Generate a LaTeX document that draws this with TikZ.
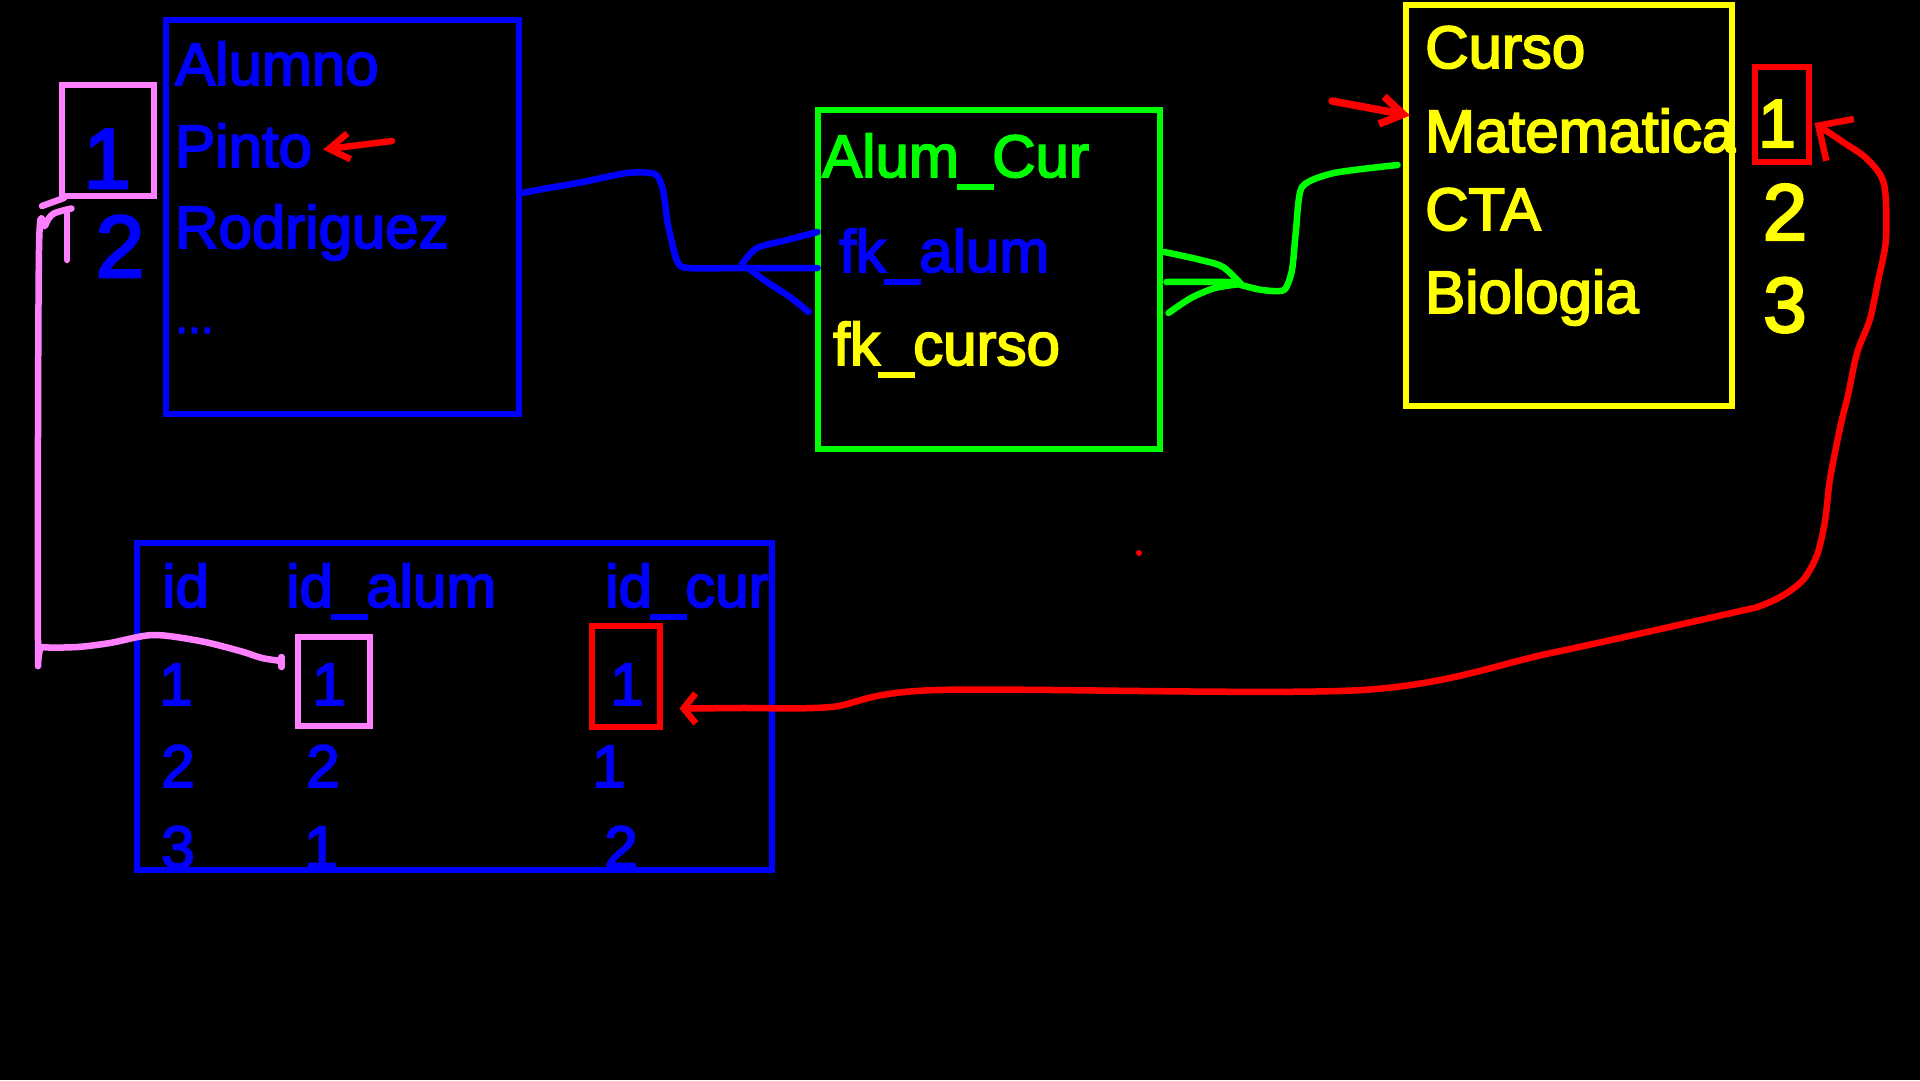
\documentclass[tikz,border=0pt]{standalone}
\usepackage{fontspec}
\setmainfont{Liberation Sans}[FakeBold=3]
\usetikzlibrary{arrows.meta,calc}
\definecolor{cblue}{RGB}{0,0,255}
\definecolor{cgreen}{RGB}{0,255,0}
\definecolor{cyellow}{RGB}{255,255,0}
\definecolor{cred}{RGB}{255,0,0}
\definecolor{cpink}{RGB}{255,128,255}
\begin{document}
\begin{tikzpicture}[x=1pt,y=-1pt,
 bx/.style={draw, line width=6pt, inner sep=0pt, outer sep=0pt, anchor=north west},
 txt/.style={inner sep=0pt, anchor=base west, font=\fontsize{60}{72}\selectfont},
 dig/.style={inner sep=0pt, anchor=base, font=\fontsize{60}{72}\selectfont, text=cblue},
 big/.style={inner sep=0pt, anchor=base, font=\fontsize{#1}{#1}\selectfont},
 ln/.style={line width=6.5pt, line cap=round, line join=round},
]
\fill[black] (0,0) rectangle (1920,1080);
\useasboundingbox (0,0) rectangle (1920,1080);

% Alumno table
\node[bx, draw=cblue, minimum width=353pt, minimum height=394pt] (alumno) at (166,20) {};
\node[txt, text=cblue] (talumno) at (175,85) {Alumno};
\node[txt, text=cblue] (pinto) at (175,167) {Pinto};
\node[txt, text=cblue] (rodriguez) at (175,248) {Rodriguez};
\node[txt, text=cblue, font=\fontsize{46}{50}\selectfont] (dots) at (175,333) {...};
\node[bx, draw=cpink, minimum width=92pt, minimum height=111pt] (pinkA) at (61.5,84.5) {};
\node[big=85, text=cblue] (idA) at (107,188) {1};
\node[big=88, text=cblue] (idB) at (120,277) {2};

% Alum_Cur
\node[bx, draw=cgreen, minimum width=342pt, minimum height=339pt] (alumcur) at (817.5,109.5) {};
\node[txt, text=cgreen] (talumcur) at (822,177) {Alum\_Cur};
\node[txt, text=cblue] (fkalum) at (839,272) {fk\_alum};
\node[txt, text=cyellow] (fkcurso) at (833,365) {fk\_curso};

% Curso
\node[bx, draw=cyellow, minimum width=326pt, minimum height=401pt] (curso) at (1405.5,4.5) {};
\node[txt, text=cyellow] (tcurso) at (1425,68) {Curso};
\node[txt, text=cyellow] (mat) at (1425,152) {Matematica};
\node[txt, text=cyellow] (cta) at (1425,230) {CTA};
\node[txt, text=cyellow] (bio) at (1425,313) {Biologia};
\node[bx, draw=cred, minimum width=54pt, minimum height=95pt] (redA) at (1754.5,66.5) {};
\node[big=68, text=cyellow] (c1) at (1777,147) {1};
\node[big=80, text=cyellow] (c2) at (1785,240) {2};
\node[big=78, text=cyellow] (c3) at (1785,332) {3};

% bottom table
\node[bx, draw=cblue, minimum width=635pt, minimum height=327pt] (tabla) at (136.5,542.5) {};
\node[txt, text=cblue] (hid) at (162,607) {id};
\node[txt, text=cblue] (hidalum) at (286,607) {id\_alum};
\node[txt, text=cblue] (hidcur) at (605,607) {id\_cur};
\node[bx, draw=cpink, minimum width=72pt, minimum height=89pt] (pinkB) at (297.5,636.5) {};
\node[bx, draw=cred, minimum width=68pt, minimum height=101pt] (redB) at (591.5,625.5) {};
\node[dig] (r1a) at (176,705) {1};
\node[dig] (r1b) at (329,705) {1};
\node[dig] (r1c) at (627,705) {1};
\node[dig] (r2a) at (178,787) {2};
\node[dig] (r2b) at (323,787) {2};
\node[dig] (r2c) at (609,787) {1};
\node[dig] (r3a) at (178,868) {3};
\node[dig] (r3b) at (321,868) {1};
\node[dig] (r3c) at (621,868) {2};

% blue connector Alumno -> Alum_Cur (crow's foot)
\draw[ln, cblue] plot[smooth, tension=0.4] coordinates {([yshift=23.5pt]alumno.east) (543,189) (583,182) (627,173) (655,174) (663,190) (668,225) (677,261) (688,268) (747,268) ([yshift=11pt]alumcur.west)};
\draw[ln, cblue] plot[smooth, tension=0.5] coordinates {(742,264) (757,248) (787,240) ([yshift=47pt]alumcur.west)};
\draw[ln, cblue] plot[smooth, tension=0.5] coordinates {(748,268) (767,282) (790,297) ([xshift=-9pt,yshift=-33pt]alumcur.west)};

% green connector Curso -> Alum_Cur (crow's foot)
\draw[ln, cgreen] plot[smooth, tension=0.4] coordinates {([xshift=-8pt,yshift=40pt]curso.west) (1334,173) (1302,187) (1296,230) (1292,270) (1284,290) (1262,290) (1241,285)};
\draw[ln, cgreen] plot[smooth, tension=0.5] coordinates {(1241,284) (1223,267) (1201,260) ([xshift=5pt,yshift=27pt]alumcur.east)};
\draw[ln, cgreen] plot[smooth, tension=0.5] coordinates {(1241,285) (1227,282) ([xshift=7pt,yshift=-3pt]alumcur.east)};
\draw[ln, cgreen] plot[smooth, tension=0.5] coordinates {(1241,284) (1215,288) (1191,298) ([xshift=9pt,yshift=-34pt]alumcur.east)};

% red arrows
\coordinate (pintofrom) at (392,141);
\draw[ln, cred, -{Straight Barb[length=20pt,width=26pt]}] (pintofrom) -- ([xshift=11pt,yshift=-4pt]pinto.east);
\coordinate (matfrom) at (1332,101);
\draw[ln, line width=7.5pt, cred, -{Straight Barb[length=22pt,width=28pt]}] (matfrom) -- ([xshift=-15pt,yshift=15pt]mat.west);
\fill[cred] (1139,553) circle (3);

% red link id_cur 1 <-> Curso 1
\draw[ln, cred, {Straight Barb[length=12pt,width=30pt]}-{Straight Barb[length=26pt,width=50pt]}] plot[smooth, tension=0.5] coordinates {($(redB.south east)+(20,-18)$) (740,708) (831,707) (937,690) (1362,690) (1551,653) (1736,612) (1760,606) (1782,596) (1803,580) (1817,555) (1825,521) (1830,479) (1840,428) (1848,395) (1857,353) (1870,319) (1878,281) (1886,239) (1884,184) (1867,159) (1843,142) ($(redA.east)+(6,9)$)};

% pink link Alumno id 1 <-> id_alum 1
\draw[ln, cpink] plot[smooth, tension=0.5] coordinates {($(pinkA.south west)+(10,13)$) (53,214) (45,226) (39,250) (38,640) (42,647) (77,647) (110,643) (153,635) (200,641) (240,651) (262,658) ($(pinkB.west)+(-16,-20)$)};
\draw[ln, cpink] ($(pinkB.west)+(-16,-24)$) -- ($(pinkB.west)+(-16,-14)$);
\draw[ln, cpink] (67,210) -- (67,260);
\draw[ln, cpink] (42,206) -- (64,198);
\end{tikzpicture}
\end{document}
